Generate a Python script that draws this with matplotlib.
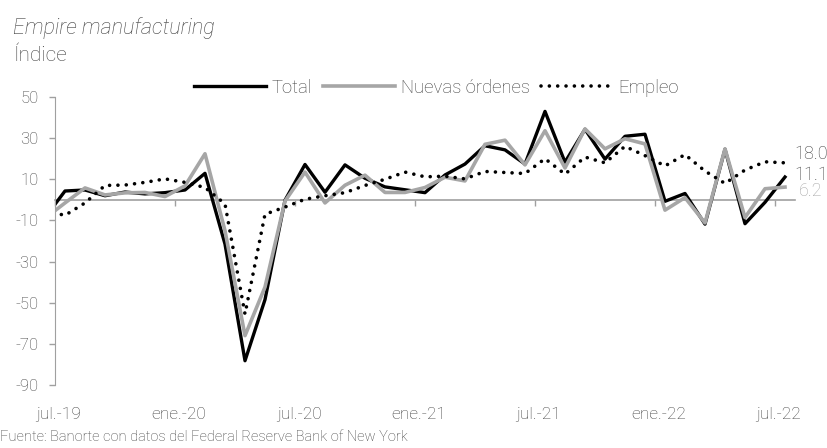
import matplotlib
matplotlib.use("Agg")
import matplotlib.pyplot as plt
import numpy as np

# months from jun-19 (clipped at the left edge) to jul-22
months = np.arange(-1, 37)

total = [-8.6,
         4.3, 4.8, 2.0, 3.8, 2.9, 3.5,
         4.8, 12.9, -21.5, -78.2, -48.5, -0.2, 17.2, 3.7, 17.0, 10.5, 6.3, 4.9,
         3.5, 12.1, 17.4, 26.3, 24.3, 17.4, 43.0, 18.3, 34.3, 19.8, 30.9, 31.9,
         -0.7, 3.1, -11.8, 24.6, -11.6, -1.2, 11.1]
nuevas_ordenes = [-9.0,
                  -1.5, 5.8, 2.4, 3.4, 3.6, 1.6,
                  6.8, 22.4, -15.0, -66.0, -42.4, -0.6, 13.5, -1.5, 7.1, 12.0, 3.6, 3.6,
                  6.0, 11.0, 9.2, 27.0, 29.0, 17.0, 33.6, 15.5, 34.5, 24.8, 29.7, 27.2,
                  -5.0, 1.1, -11.2, 24.8, -8.6, 5.4, 6.2]
empleo = [-5.5,
          -7.5, -1.5, 7.0, 7.2, 8.5, 10.2,
          8.5, 6.0, -2.0, -55.5, -7.0, -3.5, 0.3, 2.0, 3.5, 7.0, 10.0, 13.5,
          11.2, 11.5, 10.2, 13.8, 13.3, 12.8, 20.0, 12.5, 20.8, 18.0, 26.0, 21.5,
          16.5, 22.0, 14.0, 8.0, 14.5, 18.5, 18.0]

x_labels = ["jul.-19", "ene.-20", "jul.-20", "ene.-21", "jul.-21", "ene.-22", "jul.-22"]
y_ticks = np.arange(-90, 51, 20)

TXT = "#404040"
GRAY = "#a6a6a6"
AXC = "#a0a0a0"

plt.rcParams["font.family"] = ["Roboto", "DejaVu Sans"]
plt.rcParams["font.weight"] = "light"
plt.rcParams["axes.unicode_minus"] = False

fig = plt.figure(figsize=(8.27, 4.48), dpi=100)
ax = fig.add_axes([0.0665, 0.1406, 0.8948, 0.6429])

l1, = ax.plot(months, total, color="black", lw=2.4, label="Total")
l2, = ax.plot(months, nuevas_ordenes, color=GRAY, lw=2.6, label="Nuevas órdenes")
l3, = ax.plot(months, empleo, color="black", lw=2.6, linestyle=(0, (0.01, 2.3)),
              dash_capstyle="round", label="Empleo")

ax.set_xlim(-0.5, 36.5)
ax.set_ylim(-90, 50)

# y axis
ax.set_yticks(y_ticks)
ax.set_yticklabels([str(v) for v in y_ticks])
ax.tick_params(axis="y", direction="out", length=4, width=1, color=AXC,
               labelsize=12, labelcolor=TXT, pad=8)
for s in ["top", "right", "bottom"]:
    ax.spines[s].set_visible(False)
ax.spines["left"].set_color(AXC)

# category labels at the bottom
ax.set_xticks(np.arange(0, 37, 6) - 0.3)
ax.set_xticklabels(x_labels)
ax.tick_params(axis="x", length=0, labelsize=12.5, labelcolor=TXT, pad=16)

# category axis crossing at zero
sec = ax.secondary_xaxis(0, transform=ax.transData)
sec.set_xticks(np.arange(-0.5, 37, 6))
sec.set_xticklabels([])
sec.tick_params(axis="x", direction="out", length=4, width=1, color=AXC)
sec.spines["bottom"].set_color(AXC)
sec.spines["bottom"].set_linewidth(1.2)

# end values
ax.annotate(f"{empleo[-1]:.1f}", (months[-1], empleo[-1]), xytext=(7, 6),
            textcoords="offset points", color=TXT, fontsize=13, va="center")
ax.annotate(f"{total[-1]:.1f}", (months[-1], total[-1]), xytext=(7, 1.5),
            textcoords="offset points", color=TXT, fontsize=13, va="center")
ax.annotate(f"{nuevas_ordenes[-1]:.1f}", (months[-1], nuevas_ordenes[-1]), xytext=(10, -3),
            textcoords="offset points", color=GRAY, fontsize=13, va="center")

fig.legend(handles=[l1, l2, l3], loc="center", bbox_to_anchor=(0.528, 0.804), ncol=3,
           frameon=False, fontsize=13.3, handlelength=3.9, handletextpad=0.3,
           columnspacing=0.6, labelcolor=TXT)

fig.text(0.016, 0.937, "Empire manufacturing", fontsize=15.5, style="italic", color=TXT,
         va="center")
fig.text(0.016, 0.877, "Índice", fontsize=15, color=TXT, va="center")
fig.text(0.0, 0.025, "Fuente: Banorte con datos del Federal Reserve Bank of New York",
         fontsize=10.5, color=TXT, va="center")

fig.savefig("out.png", dpi=100)
